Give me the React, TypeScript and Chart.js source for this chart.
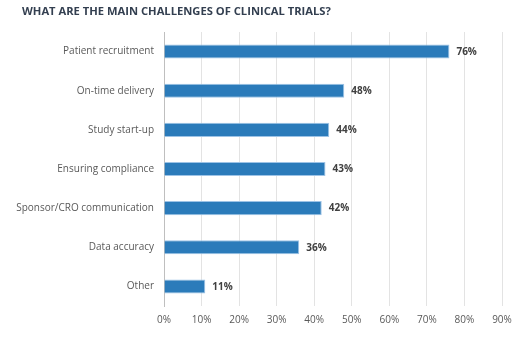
import React, { useEffect, useRef } from "react";
import { Chart, registerables } from "chart.js";

Chart.register(...registerables);

const title = "WHAT ARE THE MAIN CHALLENGES OF CLINICAL TRIALS?";
const categories = [
  "Patient recruitment",
  "On-time delivery",
  "Study start-up",
  "Ensuring compliance",
  "Sponsor/CRO communication",
  "Data accuracy",
  "Other",
];
const values = [76, 48, 44, 43, 42, 36, 11];
const xTicks = [0, 10, 20, 30, 40, 50, 60, 70, 80, 90];

const FONT = "'Open Sans', 'DejaVu Sans', sans-serif";

const valueLabels = {
  id: "valueLabels",
  afterDatasetsDraw(chart: any) {
    const ctx = chart.ctx;
    const meta = chart.getDatasetMeta(0);
    ctx.save();
    ctx.font = `bold 10px ${FONT}`;
    ctx.fillStyle = "#404040";
    ctx.textAlign = "left";
    ctx.textBaseline = "middle";
    meta.data.forEach((bar: any, i: number) => {
      const v = chart.data.datasets[0].data[i];
      ctx.fillText(`${v}%`, bar.x + 7, bar.y + 0.5);
    });
    ctx.restore();
  },
};

const titlePlugin = {
  id: "leftTitle",
  afterDraw(chart: any) {
    const ctx = chart.ctx;
    ctx.save();
    ctx.font = `bold 11.2px ${FONT}`;
    ctx.fillStyle = "#333f50";
    ctx.textAlign = "left";
    ctx.textBaseline = "middle";
    ctx.fillText(title, 22, 11.5);
    ctx.restore();
  },
};

export default function App() {
  const ref = useRef<HTMLCanvasElement | null>(null);
  useEffect(() => {
    if (!ref.current) return;
    const chart = new Chart(ref.current, {
      type: "bar",
      data: {
        labels: categories,
        datasets: [
          {
            data: values,
            backgroundColor: "#2b7bba",
            borderColor: "#9dc3e6",
            borderWidth: 1,
            barPercentage: 0.72,
            categoryPercentage: 0.5,
          },
        ],
      },
      options: {
        indexAxis: "y",
        animation: false,
        responsive: false,
        maintainAspectRatio: false,
        layout: { padding: { left: 4, right: 27, top: 32, bottom: 0 } },
        plugins: {
          legend: { display: false },
          tooltip: { enabled: false },
          title: { display: false },
        },
        scales: {
          x: {
            min: 0,
            max: 90,
            afterBuildTicks: (s: any) => {
              s.ticks = xTicks.map((v) => ({ value: v }));
            },
            afterFit: (s: any) => {
              s.height = 37;
            },
            grid: { color: "#e3e3e3", drawTicks: false },
            border: { display: false },
            ticks: {
              padding: 8,
              color: "#595959",
              font: { family: FONT, size: 10 },
              callback: (v: any) => `${v}%`,
            },
          },
          y: {
            afterFit: (s: any) => {
              s.width = 160;
            },
            grid: { display: false, drawTicks: false },
            border: { display: true, color: "#bfbfbf" },
            ticks: {
              padding: 10,
              color: "#595959",
              font: { family: FONT, size: 10 },
            },
          },
        },
      },
      plugins: [valueLabels, titlePlugin],
    });
    return () => chart.destroy();
  }, []);
  return (
    <div style={{ position: "absolute", left: 0, top: 0, width: 529, height: 343, background: "#fff" }}>
      <canvas ref={ref} width={529} height={343} />
    </div>
  );
}
